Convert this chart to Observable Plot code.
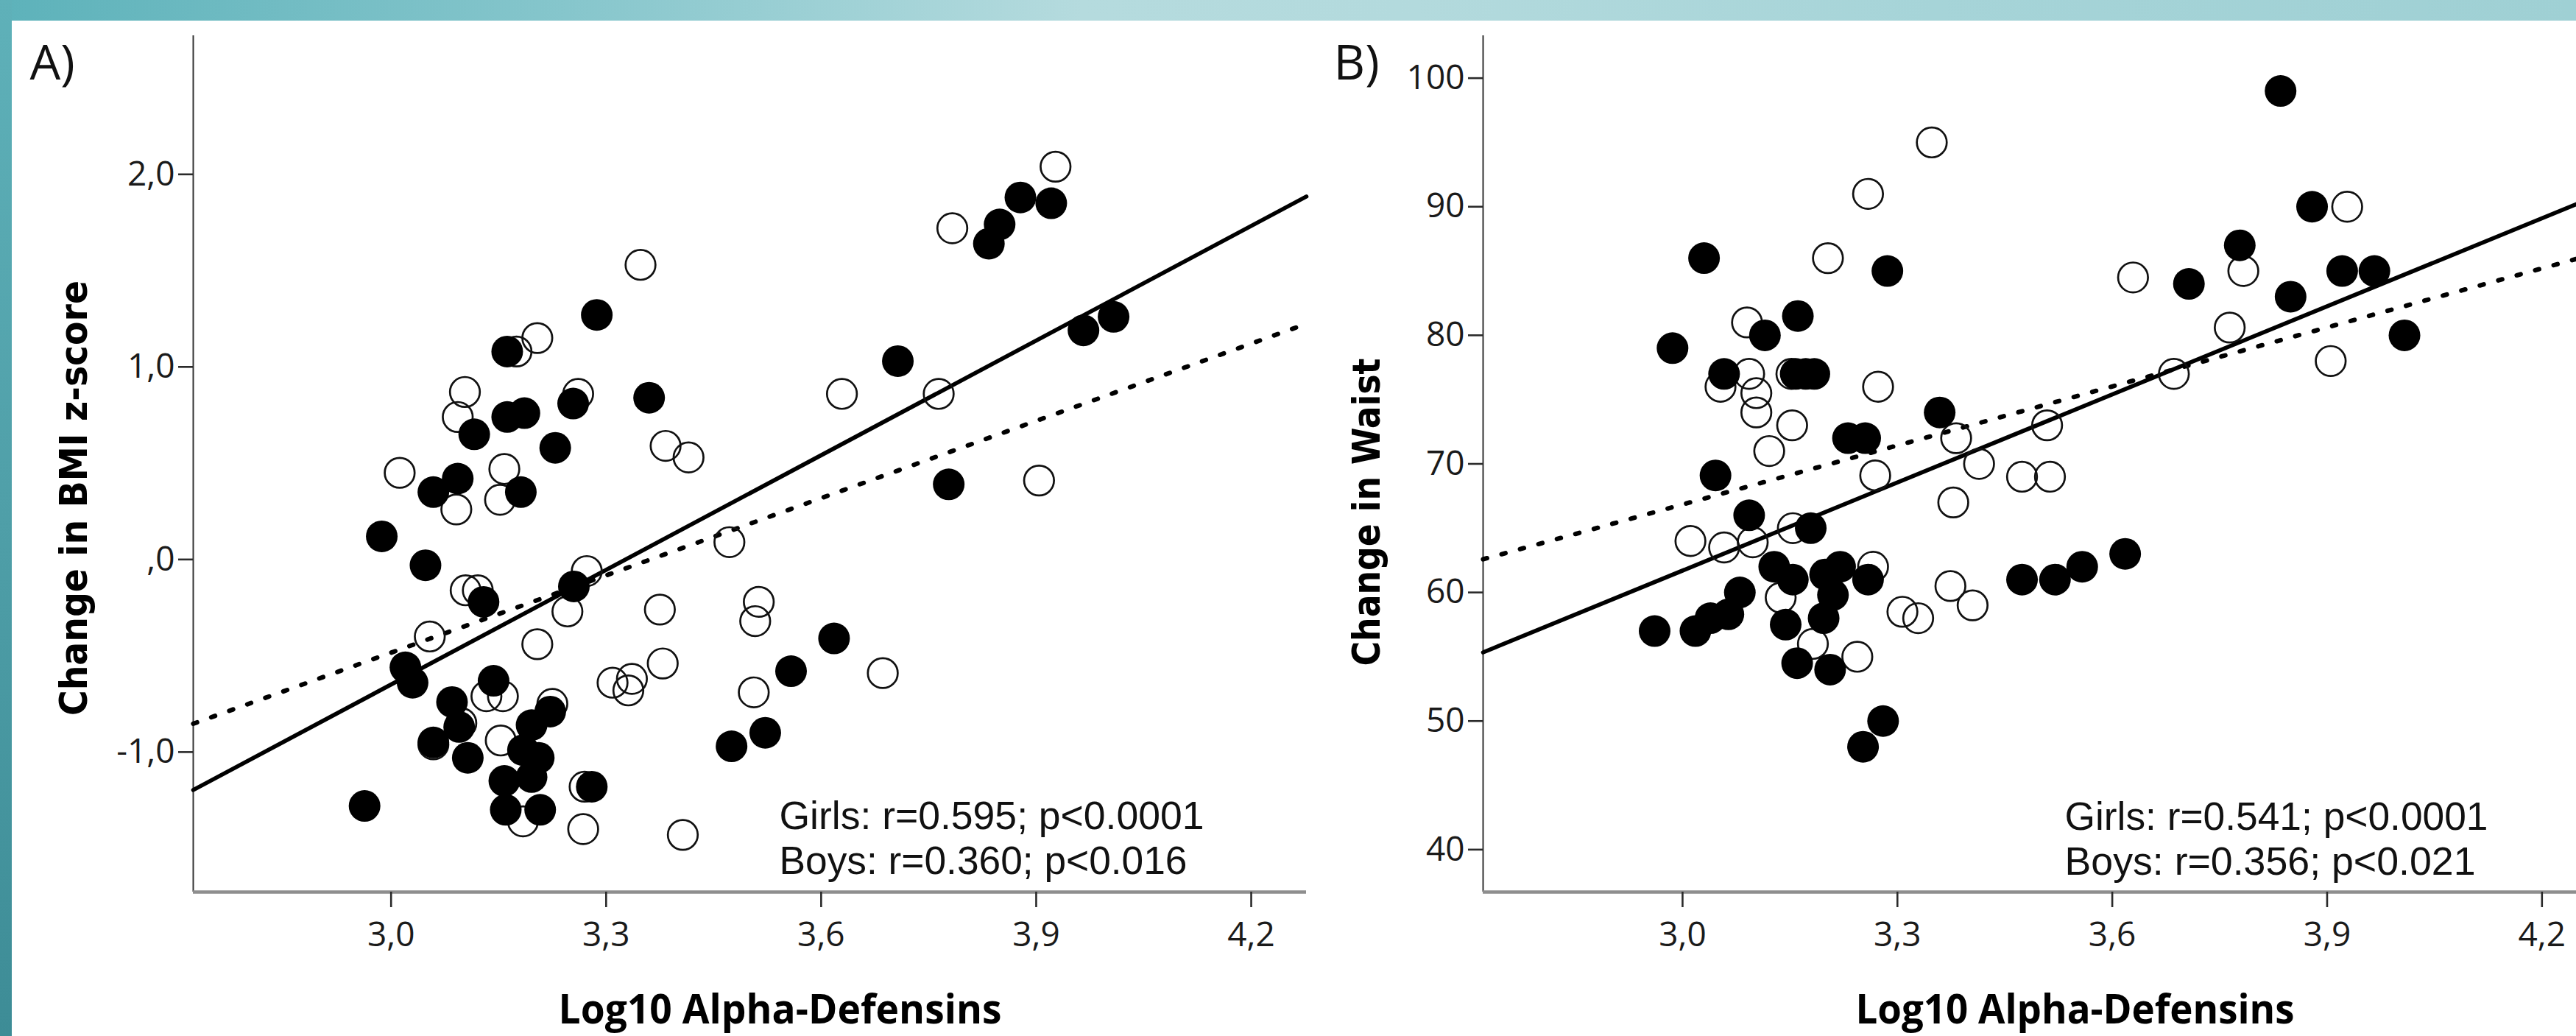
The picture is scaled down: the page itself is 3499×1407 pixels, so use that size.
<!DOCTYPE html>
<html><head><meta charset="utf-8">
<script src="https://cdn.jsdelivr.net/npm/d3@7"></script>
<script src="https://cdn.jsdelivr.net/npm/@observablehq/plot@0.6"></script>
<style>
html,body{margin:0;padding:0;background:#fff;}
#page{position:relative;width:3499px;height:1407px;overflow:hidden;background:#fff;}
#topband{position:absolute;left:0;top:0;width:3499px;height:28px;
  background:linear-gradient(to right,#5db2ba 0%,#86c6cc 22%,#b5dbde 42%,#b3dadd 55%,#a6d4d8 75%,#9fd0d4 100%);}
#leftband{position:absolute;left:0;top:0;width:16px;height:1407px;
  background:linear-gradient(to bottom,#5fb1b9 0%,#4f9fa8 50%,#3d8c96 100%);}
#panelA{position:absolute;left:0;top:0;}
#panelB{position:absolute;left:1790px;top:0;}
svg [aria-label="x-axis tick"], svg [aria-label="y-axis tick"]{stroke:#2a2a2a;stroke-width:2.6px;}
</style></head>
<body><div id="page"><div id="panelA"></div><div id="panelB"></div><div id="topband"></div><div id="leftband"></div></div>
<script>
// ---------- Panel A: Change in BMI z-score ----------
const aGirlsX = [2.963, 2.987, 3.020, 3.030, 3.048, 3.059, 3.059, 3.085, 3.093, 3.095, 3.107, 3.116, 3.129, 3.143, 3.158, 3.160, 3.162, 3.162, 3.181, 3.184, 3.186, 3.196, 3.196, 3.206, 3.208, 3.222, 3.229, 3.254, 3.255, 3.280, 3.287, 3.360, 3.475, 3.522, 3.558, 3.618, 3.707, 3.778, 3.834, 3.849, 3.878, 3.921, 3.966, 4.008];
const aGirlsY = [-1.28, 0.12, -0.56, -0.64, -0.03, 0.35, -0.95, -0.74, 0.42, -0.87, -1.03, 0.65, -0.22, -0.63, -1.15, -1.30, 1.08, 0.74, 0.35, -0.99, 0.76, -0.86, -1.13, -1.03, -1.30, -0.79, 0.58, 0.81, -0.14, -1.18, 1.27, 0.84, -0.97, -0.90, -0.58, -0.41, 1.03, 0.39, 1.64, 1.74, 1.88, 1.85, 1.19, 1.26];
const aBoysX = [3.012, 3.054, 3.059, 3.091, 3.093, 3.098, 3.103, 3.104, 3.121, 3.133, 3.152, 3.153, 3.156, 3.158, 3.175, 3.184, 3.204, 3.204, 3.225, 3.246, 3.261, 3.268, 3.270, 3.273, 3.309, 3.331, 3.336, 3.348, 3.375, 3.379, 3.383, 3.407, 3.415, 3.472, 3.506, 3.508, 3.513, 3.629, 3.686, 3.764, 3.783, 3.904, 3.927];
const aBoysY = [0.45, -0.40, -0.96, 0.26, 0.74, -0.85, 0.87, -0.16, -0.16, -0.71, 0.31, -0.94, -0.71, 0.47, 1.08, -1.36, 1.15, -0.44, -0.75, -0.27, 0.86, -1.40, -1.18, -0.06, -0.64, -0.68, -0.62, 1.53, -0.26, -0.54, 0.59, -1.43, 0.53, 0.09, -0.69, -0.32, -0.22, 0.86, -0.59, 0.86, 1.72, 0.41, 2.04];
const aFitX = [2.724, 4.277];
const aGirlsFitY = [-1.197, 1.885];
const aBoysFitY = [-0.853, 1.224];
const aXDomain = [2.724, 4.277];
const aYDomain = [-1.727, 2.72];
const aYTicks = [-1, 0, 1, 2];
const aYTickLabels = ["-1,0", ",0", "1,0", "2,0"];
const aNotes = ["Girls: r=0.595; p<0.0001", "Boys: r=0.360; p<0.016"];

// ---------- Panel B: Change in Waist ----------
const bGirlsX = [2.961, 2.986, 3.018, 3.030, 3.039, 3.046, 3.058, 3.064, 3.080, 3.093, 3.115, 3.128, 3.144, 3.154, 3.158, 3.160, 3.161, 3.172, 3.179, 3.184, 3.197, 3.199, 3.206, 3.210, 3.220, 3.231, 3.252, 3.255, 3.259, 3.280, 3.286, 3.359, 3.474, 3.520, 3.558, 3.618, 3.707, 3.778, 3.835, 3.849, 3.879, 3.921, 3.966, 4.008];
const bGirlsY = [57, 79, 57, 86, 58, 69.1, 77, 58.3, 60, 66, 80, 62, 57.5, 61, 77, 54.5, 81.5, 77, 65, 77, 58, 61.4, 54, 59.8, 62, 72, 48, 72, 61, 50, 85, 74, 61, 61, 62, 63, 84, 87, 99, 83, 90, 85, 85, 80];
const bBoysX = [3.011, 3.053, 3.058, 3.090, 3.093, 3.098, 3.103, 3.103, 3.121, 3.137, 3.152, 3.153, 3.154, 3.182, 3.203, 3.244, 3.259, 3.266, 3.269, 3.273, 3.307, 3.329, 3.348, 3.374, 3.378, 3.382, 3.405, 3.414, 3.474, 3.509, 3.513, 3.629, 3.686, 3.764, 3.783, 3.905, 3.928];
const bBoysY = [64, 76, 63.5, 81, 77, 63.9, 75.5, 74, 71, 59.6, 77, 73, 65, 56, 86, 55, 91, 62, 69.1, 76, 58.5, 58, 95, 60.5, 67, 72, 59, 70, 69, 73, 69, 84.5, 77, 80.6, 85, 78, 90];
const bFitX = [2.7215, 4.248];
const bGirlsFitY = [55.34, 90.2];
const bBoysFitY = [62.58, 85.94];
const bXDomain = [2.7215, 4.248];
const bYDomain = [36.7, 103.3];
const bYTicks = [40, 50, 60, 70, 80, 90, 100];
const bYTickLabels = ["40", "50", "60", "70", "80", "90", "100"];
const bNotes = ["Girls: r=0.541; p<0.0001", "Boys: r=0.356; p<0.021"];

// ---------- shared ----------
const xTicks = [3.0, 3.3, 3.6, 3.9, 4.2];
const xTickLabels = ["3,0", "3,3", "3,6", "3,9", "4,2"];
const xTitle = "Log10 Alpha-Defensins";

const pts = (X, Y) => X.map((x, i) => ({x, y: Y[i]}));

function panel(o) {
  const girls = pts(o.gx, o.gy), boys = pts(o.bx, o.by);
  const gFit = pts(o.fitX, o.gFitY), bFit = pts(o.fitX, o.bFitY);
  const svg = Plot.plot({
    width: o.width, height: 1407,
    marginTop: 48, marginBottom: 196, marginLeft: o.ml, marginRight: o.mr,
    style: {background: "transparent", overflow: "visible", fontFamily: "'Open Sans', sans-serif", color: "#1a1a1a"},
    x: {domain: o.xDomain, label: null},
    y: {domain: o.yDomain, label: null},
    marks: [
      Plot.ruleX([o.xDomain[0]], {stroke: "#333", strokeWidth: 2}),
      Plot.ruleY([o.yDomain[0]], {stroke: "#8e8e8e", strokeWidth: 4.5}),
      Plot.axisX({ticks: xTicks, tickFormat: d => xTickLabels[xTicks.indexOf(d)], tickSize: 21, tickPadding: 20, fontSize: 46, label: null}),
      Plot.axisY({ticks: o.yTicks, tickFormat: d => o.yTickLabels[o.yTicks.indexOf(d)], tickSize: 20, tickPadding: 5, fontSize: 46, label: null}),
      Plot.line(gFit, {x: "x", y: "y", stroke: "#000", strokeWidth: 5.6}),
      Plot.line(bFit, {x: "x", y: "y", stroke: "#000", strokeWidth: 6.2, strokeDasharray: "5.5 20.5"}),
      Plot.dot(boys, {x: "x", y: "y", r: 20.3, stroke: "#111", strokeWidth: 2.7, fill: "none"}),
      Plot.dot(girls, {x: "x", y: "y", r: 21.5, fill: "#000"}),
      Plot.text([o.yTitle], {text: d => d, frameAnchor: "left", rotate: -90, textAnchor: "middle", lineAnchor: "bottom",
        dx: o.yTitleDx, dy: o.yTitleDy, fontFamily: "'DejaVu Sans', sans-serif", fontWeight: "bold", fontSize: 52, fill: "#000"}),
      Plot.text([o.tag], {text: d => d, frameAnchor: "top-left", textAnchor: "start", lineAnchor: "bottom",
        dx: o.tagDx, dy: 59, fontSize: 66, fill: "#111"}),
      Plot.text([xTitle], {text: d => d, frameAnchor: "bottom", textAnchor: "middle", lineAnchor: "bottom",
        dx: o.xTitleDx, dy: 178, fontWeight: "bold", fontSize: 56, fill: "#000"}),
      Plot.text([o.notes[0]], {text: d => d, frameAnchor: "bottom-left", textAnchor: "start", lineAnchor: "bottom",
        dx: o.noteDx, dy: o.noteDy[0], fontFamily: "'Liberation Sans', sans-serif", fontSize: 53, fill: "#111"}),
      Plot.text([o.notes[1]], {text: d => d, frameAnchor: "bottom-left", textAnchor: "start", lineAnchor: "bottom",
        dx: o.noteDx, dy: o.noteDy[1], fontFamily: "'Liberation Sans', sans-serif", fontSize: 53, fill: "#111"})
    ]
  });
  d3.select(svg).selectAll("text").each(function () {
    const t = this.textContent;
    if (o.lengths[t]) d3.select(this).attr("textLength", o.lengths[t]).attr("lengthAdjust", "spacingAndGlyphs");
  });
  return svg;
}

document.getElementById("panelA").appendChild(panel({
  width: 1790, ml: 262, mr: 16,
  gx: aGirlsX, gy: aGirlsY, bx: aBoysX, by: aBoysY,
  fitX: aFitX, gFitY: aGirlsFitY, bFitY: aBoysFitY,
  xDomain: aXDomain, yDomain: aYDomain, yTicks: aYTicks, yTickLabels: aYTickLabels,
  yTitle: "Change in BMI z-score", yTitleDx: -145, yTitleDy: 46.5,
  tag: "A)", tagDx: -222, xTitleDx: 41,
  notes: aNotes, noteDx: 796, noteDy: [-86, -25],
  lengths: {"Girls: r=0.595; p<0.0001": 577, "Boys: r=0.360; p<0.016": 554, "Log10 Alpha-Defensins": 602, "Change in BMI z-score": 591}
}));
document.getElementById("panelB").appendChild(panel({
  width: 1709, ml: 224, mr: 0,
  gx: bGirlsX, gy: bGirlsY, bx: bBoysX, by: bBoysY,
  fitX: bFitX, gFitY: bGirlsFitY, bFitY: bBoysFitY,
  xDomain: bXDomain, yDomain: bYDomain, yTicks: bYTicks, yTickLabels: bYTickLabels,
  yTitle: "Change in Waist", yTitleDx: -141, yTitleDy: 65.5,
  tag: "B)", tagDx: -203, xTitleDx: 61.5,
  notes: bNotes, noteDx: 790, noteDy: [-85, -24],
  lengths: {"Girls: r=0.541; p<0.0001": 575, "Boys: r=0.356; p<0.021": 558, "Log10 Alpha-Defensins": 596, "Change in Waist": 418}
}));
</script></body></html>
